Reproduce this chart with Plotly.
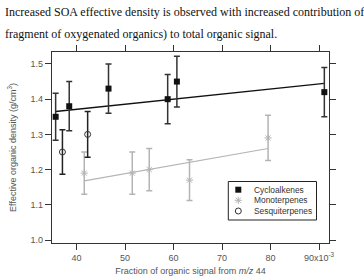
import plotly.graph_objects as go

# ---- data (x in units of 1e-3 scaled to fraction) ----
cyclo_x = [35.7e-3, 38.5e-3, 46.6e-3, 58.8e-3, 60.7e-3, 91.1e-3]
cyclo_y = [1.35, 1.38, 1.43, 1.40, 1.45, 1.42]
cyclo_err = [0.067, 0.07, 0.07, 0.07, 0.072, 0.07]

mono_x = [41.6e-3, 51.5e-3, 55.0e-3, 63.3e-3, 79.5e-3]
mono_y = [1.19, 1.19, 1.20, 1.17, 1.29]
mono_err = [0.06, 0.06, 0.06, 0.058, 0.064]

sesq_x = [37.1e-3, 42.3e-3]
sesq_y = [1.25, 1.30]
sesq_err = [0.063, 0.065]

cyclo_fit_x = [35.7e-3, 91.1e-3]
cyclo_fit_y = [1.365, 1.445]
mono_fit_x = [41.6e-3, 79.5e-3]
mono_fit_y = [1.168, 1.26]

x_tickvals = [0.04, 0.05, 0.06, 0.07, 0.08, 0.09]
x_ticktext = ["40", "50", "60", "70", "80", "90x10<sup>-3</sup>"]
y_tickvals = [1.0, 1.1, 1.2, 1.3, 1.4, 1.5]
y_ticktext = ["1.0", "1.1", "1.2", "1.3", "1.4", "1.5"]

legend_names = ["Cycloalkenes", "Monoterpenes", "Sesquiterpenes"]

W, H = 364, 276
ML, MR, MT, MB = 52, 35, 52, 33
PW, PH = W - ML - MR, H - MT - MB

def px(x):
    return (x - ML) / PW

def py(y):
    return (H - MB - y) / PH

BLACK = "#111111"
GRAY = "#b4b4b4"
TXT = "#555555"

fig = go.Figure()

fig.add_trace(go.Scatter(x=cyclo_fit_x, y=cyclo_fit_y, mode="lines",
                         line=dict(color=BLACK, width=1.3), showlegend=False))
fig.add_trace(go.Scatter(x=mono_fit_x, y=mono_fit_y, mode="lines",
                         line=dict(color=GRAY, width=1.2), showlegend=False))

fig.add_trace(go.Scatter(
    x=cyclo_x, y=cyclo_y, mode="markers", name=legend_names[0],
    marker=dict(symbol="square", size=6, color=BLACK),
    error_y=dict(type="data", array=cyclo_err, color="#333333", thickness=1.5, width=3),
    showlegend=False))
fig.add_trace(go.Scatter(
    x=mono_x, y=mono_y, mode="markers", name=legend_names[1],
    marker=dict(symbol="asterisk-open", size=6, color=GRAY, line=dict(color=GRAY, width=1)),
    error_y=dict(type="data", array=mono_err, color=GRAY, thickness=1.5, width=3),
    showlegend=False))
fig.add_trace(go.Scatter(
    x=sesq_x, y=sesq_y, mode="markers", name=legend_names[2],
    marker=dict(symbol="circle-open", size=6, color="#333333", line=dict(color="#333333", width=1)),
    error_y=dict(type="data", array=sesq_err, color="#222222", thickness=1.5, width=3),
    showlegend=False))

# manual legend symbols on an overlay axis mapped to paper coordinates
leg_sym_x = [px(238.3)] * 3
leg_sym_y = [py(189.7), py(200.3), py(211)]
fig.add_trace(go.Scatter(x=[leg_sym_x[0]], y=[leg_sym_y[0]], mode="markers", xaxis="x2", yaxis="y2",
                         marker=dict(symbol="square", size=6, color=BLACK), showlegend=False))
fig.add_trace(go.Scatter(x=[leg_sym_x[1]], y=[leg_sym_y[1]], mode="markers", xaxis="x2", yaxis="y2",
                         marker=dict(symbol="asterisk-open", size=6, color=GRAY, line=dict(color=GRAY, width=1)),
                         showlegend=False))
fig.add_trace(go.Scatter(x=[leg_sym_x[2]], y=[leg_sym_y[2]], mode="markers", xaxis="x2", yaxis="y2",
                         marker=dict(symbol="circle-open", size=6, color="#333333", line=dict(color="#333333", width=1)),
                         showlegend=False))

annotations = []
for name, yy in zip(legend_names, leg_sym_y):
    annotations.append(dict(text=name, x=px(251.5), y=yy, xref="paper", yref="paper",
                            xanchor="left", yanchor="middle", showarrow=False,
                            font=dict(family="Liberation Sans", size=8.4, color="#333333")))

annotations.append(dict(text="Increased SOA effective density is observed with increased contribution of",
                        x=px(3), y=py(12), xref="paper", yref="paper", xanchor="left", yanchor="middle",
                        showarrow=False, font=dict(family="Liberation Serif", size=12, color="#111111")))
annotations.append(dict(text="fragment of oxygenated organics) to total organic signal.",
                        x=px(3), y=py(34), xref="paper", yref="paper", xanchor="left", yanchor="middle",
                        showarrow=False, font=dict(family="Liberation Serif", size=12, color="#111111")))

shapes = [dict(type="rect", xref="paper", yref="paper",
               x0=px(228.3), x1=px(316.5), y0=py(220), y1=py(181.5),
               line=dict(color="#222222", width=1), fillcolor="rgba(0,0,0,0)")]

axis_common = dict(showgrid=False, zeroline=False, ticks="outside", ticklen=6, tickwidth=1,
                   tickcolor="#333333", showline=True, linecolor="#333333", linewidth=1.2,
                   mirror="ticks", tickfont=dict(family="Liberation Sans", size=9, color=TXT))

fig.update_layout(
    width=W, height=H,
    margin=dict(l=ML, r=MR, t=MT, b=MB, pad=0),
    paper_bgcolor="white", plot_bgcolor="white",
    xaxis=dict(range=[0.03495, 0.09206], tickvals=x_tickvals, ticktext=x_ticktext,
               title=dict(text="Fraction of organic signal from <i>m/z</i> 44",
                          font=dict(family="Liberation Sans", size=9, color=TXT), standoff=9),
               automargin=False, **axis_common),
    yaxis=dict(range=[0.9915, 1.534], tickvals=y_tickvals, ticktext=y_ticktext,
               title=dict(text="Effective organic density (g/cm<sup>3</sup>)",
                          font=dict(family="Liberation Sans", size=9, color=TXT), standoff=12),
               automargin=False, **axis_common),
    xaxis2=dict(range=[0, 1], overlaying="x", visible=False, fixedrange=True),
    yaxis2=dict(range=[0, 1], overlaying="y", visible=False, fixedrange=True),
    annotations=annotations,
    shapes=shapes,
    showlegend=False,
)

fig.write_html("out.html")
